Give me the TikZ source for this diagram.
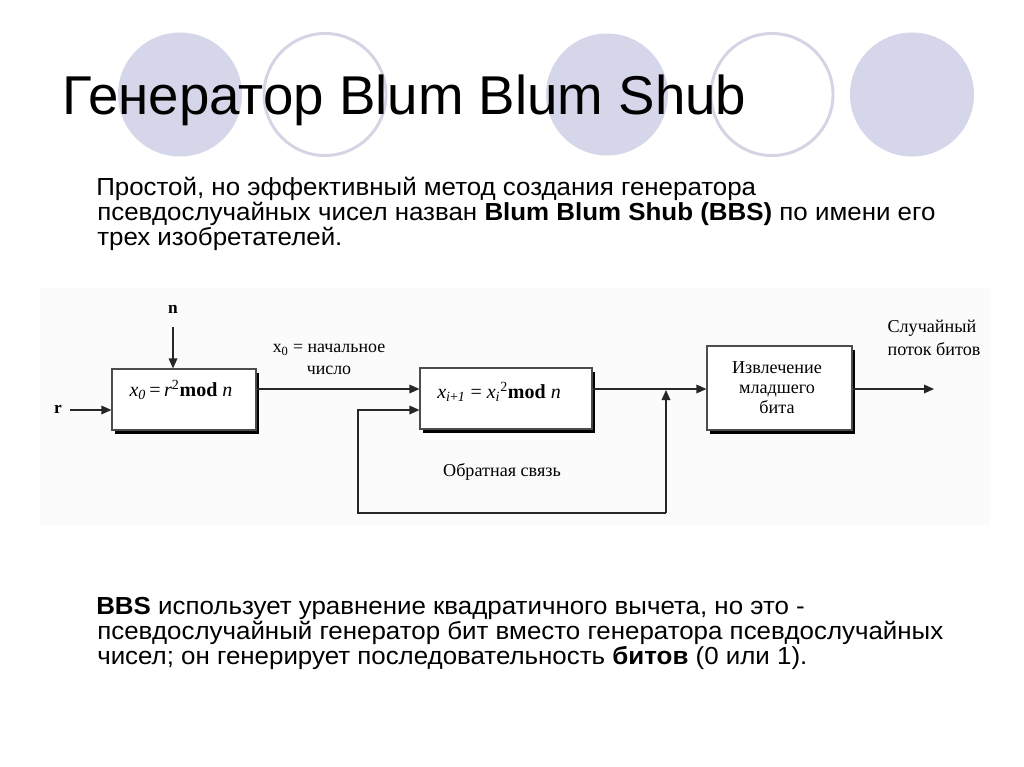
\documentclass[tikz,border=0pt]{standalone}
\usepackage{fontspec}
\setmainfont{Liberation Serif}
\newfontfamily\arialf{Liberation Sans}
\newfontfamily\arialn{Liberation Sans}[FakeStretch=1.05]
\usetikzlibrary{arrows.meta,shadows}
\definecolor{circfill}{RGB}{214,214,234}
\definecolor{circline}{RGB}{212,212,228}
\definecolor{diagbg}{RGB}{250,251,250}
\tikzset{
  para/.style={anchor=base west, inner sep=0pt, font=\arialn\fontsize{18.5pt}{20pt}\selectfont},
  boxst/.style={draw=black!70, line width=0.9pt, fill=white, inner sep=0pt,
    drop shadow={fill=black, opacity=1, shadow xshift=2.3pt, shadow yshift=-2.8pt}},
  mathlbl/.style={inner sep=0pt, font=\fontsize{15pt}{18pt}\selectfont},
  lbl/.style={inner sep=0pt, font=\fontsize{13.6pt}{15pt}\selectfont},
  boldlbl/.style={inner sep=0pt, font=\bfseries\fontsize{13pt}{15pt}\selectfont},
  conn/.style={line width=0.9pt, draw=black!85},
  arr/.style={conn, -{Triangle[length=7.5pt,width=6.5pt]}}
}
\begin{document}
\begin{tikzpicture}[x=0.75pt,y=-0.75pt]
\useasboundingbox (0,0) rectangle (1024,767);
\fill[white] (0,0) rectangle (1024,767);
% decorative circles
\fill[circfill] (180,94.5) circle[radius=62];
\draw[circline, line width=2.2pt] (325,94.5) circle[radius=61];
\fill[circfill] (607,94.5) circle[radius=61];
\draw[circline, line width=2.2pt] (772,94.5) circle[radius=61];
\fill[circfill] (912,94.5) circle[radius=62];
% title
\node[anchor=base west, inner sep=0pt, font=\arialf\fontsize{41pt}{45pt}\selectfont] (title) at (62,114) {Генератор Blum Blum Shub};
% paragraph 1
\node[para] (p1a) at (96,195) {Простой, но эффективный метод создания генератора};
\node[para] (p1b) at (97,220) {псевдослучайных чисел назван \textbf{Blum Blum Shub (BBS)} по имени его};
\node[para] (p1c) at (97,245) {трех изобретателей.};
% diagram background
\fill[diagbg] (40,288) rectangle (990,525);
% boxes
\node[boxst, minimum width=108pt, minimum height=45.75pt] (b1) at (184,399.5) {};
\node[boxst, minimum width=129pt, minimum height=45.75pt] (b2) at (506,398.5) {};
\node[boxst, minimum width=108.75pt, minimum height=63pt] (b3) at (779.5,388) {};
\node[mathlbl] (t1) at (181,390) {\textit{x}\textsubscript{\textit{0}}\,=\,\textit{r}\textsuperscript{2}\textbf{mod} \textit{n}};
\node[mathlbl] (t2) at (499,392) {\textit{x}\textsubscript{\textit{i}+\textit{1}} = \textit{x}\textsubscript{\textit{i}}\textsuperscript{2}\textbf{mod} \textit{n}};
\node[lbl, align=center] (t3) at (777,388) {Извлечение\\младшего\\бита};
% inputs
\node[boldlbl] (nl) at (173,309) {n};
\node[boldlbl] (rl) at (58,409) {r};
\coordinate (nstart) at (173,327);
\coordinate (rstart) at (70,410);
\draw[arr] (nstart) -- (nstart |- b1.north);
\draw[arr] (rstart) -- (rstart -| b1.west);
% main line
\coordinate (mainy) at (0,389);
\coordinate (outend) at (934,389);
\draw[arr] (b1.east |- mainy) -- (b2.west |- mainy);
\draw[arr] (b2.east |- mainy) -- (b3.west |- mainy);
\draw[arr] (b3.east |- mainy) -- (outend);
% feedback
\coordinate (jn) at (666,390);
\coordinate (fb1) at (666,513);
\coordinate (fb2) at (358,513);
\coordinate (fb3) at (358,410);
\draw[arr] (fb1) -- (jn);
\draw[arr] (fb1) -- (fb2) -- (fb3) -- (fb3 -| b2.west);
% labels
\node[lbl, align=center, font=\fontsize{13.4pt}{16.5pt}\selectfont] (x0l) at (329,359) {x\textsubscript{0} = начальное\\число};
\node[lbl] (fbl) at (502,472) {Обратная связь};
\node[lbl, align=left, font=\fontsize{13.6pt}{17pt}\selectfont] (outl) at (934,338) {Случайный\\поток битов};
% paragraph 2
\node[para] (p2a) at (96,614) {\textbf{BBS} использует уравнение квадратичного вычета, но это -};
\node[para] (p2b) at (97,639) {псевдослучайный генератор бит вместо генератора псевдослучайных};
\node[para] (p2c) at (97,664) {чисел; он генерирует последовательность \textbf{битов} (0 или 1).};
\end{tikzpicture}
\end{document}
